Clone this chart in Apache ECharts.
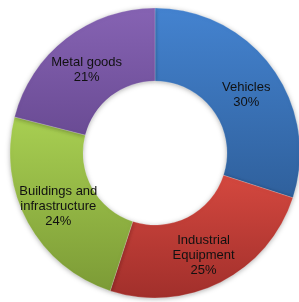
<!DOCTYPE html>
<html>
<head>
<meta charset="utf-8">
<script src="https://cdn.jsdelivr.net/npm/echarts@6/dist/echarts.min.js"></script>
<style>html,body{margin:0;padding:0;background:#fff;}#c{width:299px;height:302px;}</style>
</head>
<body>
<div id="c"></div>
<script>
const categories = ['Vehicles', 'Industrial\nEquipment', 'Buildings and\ninfrastructure', 'Metal goods'];
const values = [30, 25, 24, 21];
const topColors = ['#4483d0', '#d4483f', '#a8cf52', '#8663b3'];
const bottomColors = ['#2f609c', '#a12f2b', '#7c9b36', '#6a4b94'];
const labelShift = [[1, 7], [-2, 3], [1, 0], [0, 5]];

const chart = echarts.init(document.getElementById('c'));
chart.setOption({
  animation: false,
  series: [{
    type: 'pie',
    center: [155, 153],
    radius: [72, 145],
    startAngle: 90,
    clockwise: true,
    data: categories.map((n, i) => ({
      name: n,
      value: values[i],
      label: {offset: labelShift[i]},
      itemStyle: {
        color: new echarts.graphic.LinearGradient(0, 0, 0, 1, [
          {offset: 0, color: topColors[i]},
          {offset: 1, color: bottomColors[i]}
        ])
      }
    })),
    itemStyle: {
      borderColor: 'rgba(255,255,255,0.4)',
      borderWidth: 0.5,
      shadowBlur: 5,
      shadowColor: 'rgba(0,0,0,0.3)',
      shadowOffsetX: 0,
      shadowOffsetY: 1
    },
    label: {
      position: 'inside',
      formatter: p => p.name + '\n' + p.value + '%',
      color: '#111',
      fontFamily: 'Liberation Sans, Arial, sans-serif',
      fontSize: 13,
      lineHeight: 15
    },
    labelLine: {show: false},
    emphasis: {disabled: true}
  }]
});
</script>
</body>
</html>
